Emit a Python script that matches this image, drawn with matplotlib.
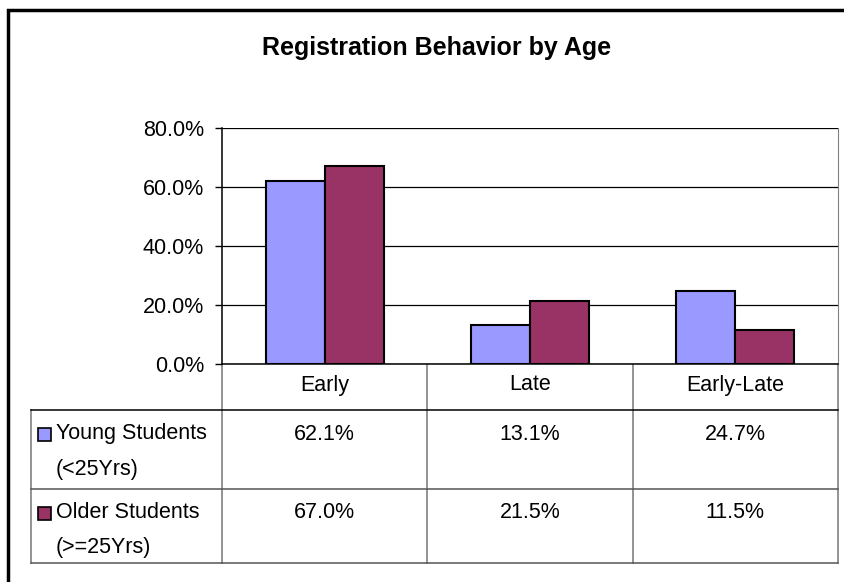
import numpy as np
import matplotlib
matplotlib.use('Agg')
import matplotlib.pyplot as plt
from matplotlib.patches import Rectangle

plt.rcParams['font.family'] = ['Liberation Sans', 'DejaVu Sans']

# donnees
categories = ['Early', 'Late', 'Early-Late']
series_names = ['Young Students\n(<25Yrs)', 'Older Students\n(>=25Yrs)']
young = [62.1, 13.1, 24.7]
older = [67.0, 21.5, 11.5]
colors = ['#9999FF', '#993366']
yticks = [0, 20, 40, 60, 80]

W, H = 845, 582
fs = 15.5
fig = plt.figure(figsize=(W / 100, H / 100), dpi=100)

# zone du graphique (en pixels)
px_left, px_right, px_top, px_bottom = 222, 838, 128, 364
ax = fig.add_axes([px_left / W, 1 - px_bottom / H,
                   (px_right - px_left) / W, (px_bottom - px_top) / H])

x = np.arange(len(categories))
bw = 0.288
ax.bar(x - bw / 2, young, bw, color=colors[0], edgecolor='black', linewidth=1.5, zorder=3)
ax.bar(x + bw / 2, older, bw, color=colors[1], edgecolor='black', linewidth=1.5, zorder=3)

ax.set_xlim(-0.5, len(categories) - 0.5)
ax.set_ylim(0, 80)
ax.set_yticks(yticks)
ax.set_yticklabels(['%.1f%%' % t for t in yticks], fontsize=fs)
ax.set_xticks([])
ax.tick_params(axis='y', direction='out', length=5, width=1, pad=8, colors='black')
ax.yaxis.grid(True, color='black', linewidth=0.9)
ax.set_axisbelow(True)
ax.spines['top'].set_visible(False)
ax.spines['right'].set_color('#808080')
ax.spines['left'].set_linewidth(1.1)
ax.spines['bottom'].set_linewidth(1.1)

# calque en pixels pour le titre, le cadre et la table
ov = fig.add_axes([0, 0, 1, 1], zorder=-1)
ov.set_xlim(0, W)
ov.set_ylim(H, 0)
ov.axis('off')

ov.text(437, 48, 'Registration Behavior by Age', ha='center', va='center',
        fontsize=18, fontweight='bold')

# cadre exterieur (coupe a droite et en bas)
ov.plot([8, 8, W + 5], [H + 5, 10, 10], color='black', linewidth=2.5,
        solid_joinstyle='miter')

# table de donnees
tab_left = 31
row_y = [364, 410, 489, 563]
colw = (px_right - px_left) / len(categories)
col_x = [px_left + i * colw for i in range(len(categories) + 1)]
gray = '#808080'

for cx in col_x:
    ov.plot([cx, cx], [row_y[0], row_y[-1]], color=gray, linewidth=1.2)
ov.plot([tab_left, tab_left], [row_y[1], row_y[-1]], color=gray, linewidth=1.2)
ov.plot([tab_left, px_right], [row_y[1], row_y[1]], color='black', linewidth=1.1)
ov.plot([tab_left, px_right], [row_y[2], row_y[2]], color='#555555', linewidth=1.1)
ov.plot([tab_left, px_right], [row_y[3], row_y[3]], color='#555555', linewidth=1.1)

for i, c in enumerate(categories):
    ov.text(col_x[i] + colw / 2, 385, c, ha='center', va='center', fontsize=fs)

rows = [young, older]
for r, vals in enumerate(rows):
    ytop = row_y[r + 1]
    for i, v in enumerate(vals):
        ov.text(col_x[i] + colw / 2, ytop + 24, '%.1f%%' % v, ha='center',
                va='center', fontsize=fs)
    ov.add_patch(Rectangle((38, ytop + 18), 13, 13, facecolor=colors[r],
                           edgecolor='black', linewidth=1.2))
    lines = series_names[r].split('\n')
    ov.text(56, ytop + 24, lines[0], ha='left', va='center', fontsize=fs)
    ov.text(56, ytop + 59, lines[1], ha='left', va='center', fontsize=fs)

fig.savefig('out.png', dpi=100)
